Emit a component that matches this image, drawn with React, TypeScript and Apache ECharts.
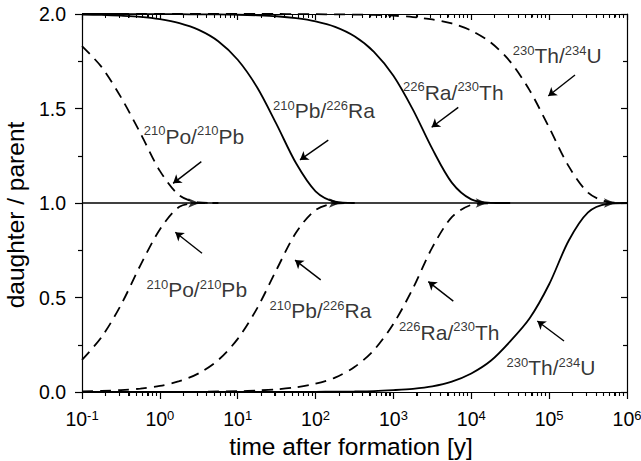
import React, { useEffect, useRef } from "react";
import * as echarts from "echarts";

// time grid [y]
const times = [0.1, 0.178, 0.316, 0.562, 1, 1.78, 3.16, 5.62, 10, 17.8, 31.6, 56.2, 100, 178, 316, 562, 1000, 1780, 3160, 5620, 10000, 17800, 31600, 56200, 100000, 178000, 316000, 562000, 1000000];

// excess curves (decay towards equilibrium)
const poPbExcess = [1.83, 1.72, 1.56, 1.37, 1.17, 1.04, 1.003, 1.0];
const pbRaExcess = [1.997, 1.995, 1.991, 1.985, 1.973, 1.952, 1.916, 1.856, 1.758, 1.611, 1.416, 1.21, 1.062, 1.007, 1.0];
const raThExcess = [2.0, 2.0, 2.0, 1.999, 1.999, 1.999, 1.998, 1.998, 1.996, 1.993, 1.988, 1.978, 1.961, 1.932, 1.882, 1.8, 1.673, 1.494, 1.286, 1.108, 1.019, 1.001, 1.0];
const thUExcess = [2.0, 2.0, 2.0, 2.0, 2.0, 2.0, 2.0, 2.0, 2.0, 2.0, 2.0, 1.9995, 1.999, 1.998, 1.997, 1.995, 1.991, 1.984, 1.971, 1.95, 1.912, 1.849, 1.748, 1.596, 1.399, 1.195, 1.055, 1.006, 1.0];

// ingrowth curves
const poPbGrowth = [0.17, 0.29, 0.46, 0.67, 0.86, 0.98, 0.999, 1.0];
const pbRaGrowth = [0.003, 0.006, 0.01, 0.018, 0.032, 0.057, 0.099, 0.169, 0.281, 0.444, 0.648, 0.844, 0.963, 0.997, 1.0];
const raThGrowth = [0, 0, 0, 0, 0, 0.001, 0.001, 0.003, 0.004, 0.008, 0.014, 0.025, 0.044, 0.076, 0.132, 0.222, 0.361, 0.548, 0.765, 0.925, 0.99, 0.999, 1.0];
const thUGrowth = [0, 0, 0, 0, 0, 0, 0, 0, 0, 0, 0.0003, 0.0005, 0.001, 0.002, 0.003, 0.005, 0.01, 0.017, 0.03, 0.055, 0.098, 0.165, 0.268, 0.39, 0.57, 0.8, 0.95, 0.995, 1.0];

// equilibrium line
const equilibriumTimes = [0.1, 1000000];
const equilibriumValues = [1, 1];
const mergeTimes = [3.2, 206, 15800, 700000];

// annotation labels
const labelTexts = [
  "{s|210}Po/{s|210}Pb",
  "{s|210}Pb/{s|226}Ra",
  "{s|226}Ra/{s|230}Th",
  "{s|230}Th/{s|234}U",
  "{s|210}Po/{s|210}Pb",
  "{s|210}Pb/{s|226}Ra",
  "{s|226}Ra/{s|230}Th",
  "{s|230}Th/{s|234}U",
];
const labelTimes = [2.745, 128.3, 5875, 126800, 2.98, 115.6, 5200, 105700];
const labelValues = [1.354, 1.487, 1.587, 1.779, 0.541, 0.43, 0.316, 0.127];

// annotation arrows (tail -> head)
const arrowTailTimes = [3.41, 145.6, 6808, 214800, 3.48, 116.4, 5875, 155200];
const arrowTailValues = [1.219, 1.333, 1.506, 1.677, 0.734, 0.593, 0.481, 0.27];
const arrowHeadTimes = [1.48, 63.1, 3097, 97500, 1.58, 54.5, 2805, 70500];
const arrowHeadValues = [1.104, 1.228, 1.401, 1.566, 0.845, 0.698, 0.584, 0.376];

// axis ticks
const xMin = 0.1;
const xMax = 1000000;
const yMin = 0;
const yMax = 2;
const yTickInterval = 0.5;
const decades = [-1, 0, 1, 2, 3, 4, 5];
const minorMultipliers = [2, 3, 4, 5, 6, 7, 8, 9];

const FONT = "Liberation Sans, Arial, Helvetica, sans-serif";
const BLACK = "#000";

const pairs = (vals: number[]) => vals.map((v, i) => [times[i], v]);

export default function App() {
  const ref = useRef<HTMLDivElement>(null);
  const overlayRef = useRef<HTMLDivElement>(null);
  useEffect(() => {
    if (!ref.current) return;
    const chart = echarts.init(ref.current, null, { renderer: "svg" });

    const minorTickTimes: number[] = [];
    decades.forEach((d) => {
      minorMultipliers.forEach((m) => {
        minorTickTimes.push(m * Math.pow(10, d));
      });
    });

    const curve = (name: string, vals: number[], dashed: boolean) => ({
      name,
      type: "line",
      data: pairs(vals),
      showSymbol: false,
      symbol: "none",
      smooth: 0.3,
      clip: false,
      lineStyle: { color: BLACK, width: 1.8, type: dashed ? [11, 7] : "solid" },
      silent: true,
      z: 3,
    });

    const lineStyle = { color: BLACK, width: 1.2 };
    const thinStyle = { color: BLACK, width: 1.1 };
    const xLabelFormatter = (v: number) => {
      const e = Math.round(Math.log10(v));
      return "10{s|" + e + "}";
    };

    const option: any = {
      animation: false,
      grid: { left: 82, right: 14, top: 14, bottom: 69, containLabel: false, outerBoundsMode: "none" },
      xAxis: [
        {
          type: "log",
          min: xMin,
          max: xMax,
          position: "bottom",
          axisLine: { show: true, onZero: false, lineStyle },
          axisTick: { show: true, inside: false, length: 7, lineStyle },
          minorTick: { show: true, splitNumber: 9, length: 4, lineStyle: thinStyle },
          splitLine: { show: false },
          axisLabel: {
            show: true,
            margin: 17,
            color: BLACK,
            fontSize: 19.5,
            fontFamily: FONT,
            formatter: xLabelFormatter,
            rich: { s: { fontSize: 13, fontFamily: FONT, color: BLACK, verticalAlign: "top", lineHeight: 12 } },
          },
          name: "time after formation [y]",
          nameLocation: "middle",
          nameGap: 35,
          nameTextStyle: { fontSize: 24.5, fontFamily: FONT, color: BLACK, padding: [0, 7, 0, 0] },
        },
        {
          type: "log",
          min: xMin,
          max: xMax,
          position: "top",
          axisLine: { show: true, onZero: false, lineStyle },
          axisTick: { show: true, inside: true, length: 6, lineStyle },
          minorTick: { show: true, splitNumber: 9, length: 3.5, lineStyle: thinStyle },
          splitLine: { show: false },
          axisLabel: { show: false },
        },
      ],
      yAxis: [
        {
          type: "value",
          min: yMin,
          max: yMax,
          interval: yTickInterval,
          position: "left",
          axisLine: { show: true, onZero: false, lineStyle },
          axisTick: { show: true, inside: false, length: 7, lineStyle },
          minorTick: { show: true, splitNumber: 2, length: 4, lineStyle },
          splitLine: { show: false },
          axisLabel: {
            margin: 16,
            color: BLACK,
            fontSize: 19.5,
            fontFamily: FONT,
            formatter: (v: number) => v.toFixed(1),
          },
          name: "daughter / parent",
          nameLocation: "middle",
          nameGap: 48,
          nameRotate: 90,
          nameTextStyle: { fontSize: 24.5, fontFamily: FONT, color: BLACK, padding: [0, 24, 0, 0] },
        },
        {
          type: "value",
          min: yMin,
          max: yMax,
          interval: yTickInterval,
          position: "right",
          axisLine: { show: true, onZero: false, lineStyle },
          axisTick: { show: true, inside: true, length: 6, lineStyle },
          minorTick: { show: true, splitNumber: 2, length: 4, lineStyle },
          splitLine: { show: false },
          axisLabel: { show: false },
        },
      ],
      series: [
        {
          name: "equilibrium",
          type: "line",
          data: equilibriumTimes.map((t, i) => [t, equilibriumValues[i]]),
          showSymbol: false,
          symbol: "none",
          lineStyle: { color: BLACK, width: 1.3 },
          silent: true,
          z: 2,
        },
        curve("210Po/210Pb excess", poPbExcess, true),
        curve("210Pb/226Ra excess", pbRaExcess, false),
        curve("226Ra/230Th excess", raThExcess, false),
        curve("230Th/234U excess", thUExcess, true),
        curve("210Po/210Pb ingrowth", poPbGrowth, true),
        curve("210Pb/226Ra ingrowth", pbRaGrowth, true),
        curve("226Ra/230Th ingrowth", raThGrowth, true),
        curve("230Th/234U ingrowth", thUGrowth, false),
        {
          name: "merge arrows",
          type: "scatter",
          data: mergeTimes.map((t) => [t, 1]),
          symbol: "arrow",
          symbolSize: [7, 11],
          symbolRotate: -90,
          itemStyle: { color: BLACK },
          silent: true,
          z: 4,
        },
        {
          name: "labels",
          type: "scatter",
          data: labelTimes.map((t, i) => [t, labelValues[i]]),
          symbolSize: 1,
          itemStyle: { color: "rgba(0,0,0,0)" },
          silent: true,
          z: 5,
          label: {
            show: true,
            position: "inside",
            color: BLACK,
            fontSize: 21,
            fontFamily: FONT,
            lineHeight: 24,
            formatter: (p: any) => labelTexts[p.dataIndex],
            rich: { s: { fontSize: 13, fontFamily: FONT, color: BLACK, verticalAlign: "top", lineHeight: 12 } },
          },
        },
        {
          name: "arrows",
          type: "line",
          data: [],
          silent: true,
          markLine: {
            silent: true,
            symbol: ["none", "arrow"],
            symbolSize: 8,
            label: { show: false },
            lineStyle: { color: BLACK, width: 1.4, type: "solid" },
            data: arrowTailTimes.map((t, i) => [
              { coord: [t, arrowTailValues[i]] },
              { coord: [arrowHeadTimes[i], arrowHeadValues[i]] },
            ]),
          },
        },
      ],
    };
    chart.setOption(option);

    // log minor ticks: positions taken from the chart's own x scale
    const overlay = overlayRef.current;
    if (overlay) {
      overlay.innerHTML = "";
      const yBottom = Number(chart.convertToPixel({ yAxisIndex: 0 }, yMin));
      const yTop = Number(chart.convertToPixel({ yAxisIndex: 0 }, yMax));
      minorTickTimes.forEach((t) => {
        const x = Number(chart.convertToPixel({ xAxisIndex: 0 }, t));
        if (!isFinite(x) || !isFinite(yBottom) || !isFinite(yTop)) return;
        const b = document.createElement("div");
        b.style.cssText = `position:absolute;left:${Math.round(x - 0.5)}px;top:${Math.round(yBottom)}px;width:1px;height:4px;background:#000;`;
        overlay.appendChild(b);
        const tp = document.createElement("div");
        tp.style.cssText = `position:absolute;left:${Math.round(x - 0.5)}px;top:${Math.round(yTop)}px;width:1px;height:4px;background:#000;`;
        overlay.appendChild(tp);
      });
    }

    return () => {
      if (overlayRef.current) overlayRef.current.innerHTML = "";
      chart.dispose();
    };
  }, []);
  return (
    <div>
      <div ref={ref} style={{ position: "absolute", left: 0, top: 0, width: 641, height: 461, background: "#fff" }} />
      <div ref={overlayRef} style={{ position: "absolute", left: 0, top: 0, width: 641, height: 461, pointerEvents: "none" }} />
    </div>
  );
}
